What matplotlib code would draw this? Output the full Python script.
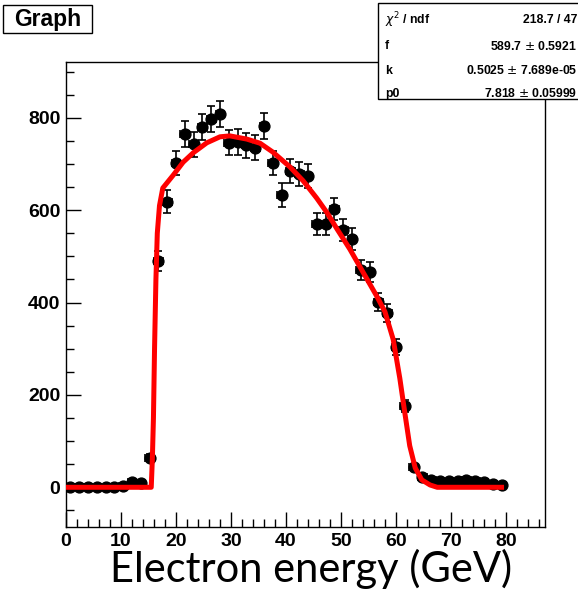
import numpy as np
import matplotlib
matplotlib.use("Agg")
import matplotlib.pyplot as plt
from matplotlib.patches import Rectangle
from matplotlib.ticker import MultipleLocator

# Data points (electron energy bins, counts)
energy = [0.8, 2.4, 4.0, 5.6, 7.2, 8.8, 10.4, 12.0, 13.6, 15.2,
          16.8, 18.4, 20.0, 21.6, 23.2, 24.8, 26.4, 28.0, 29.6, 31.2,
          32.8, 34.4, 36.0, 37.6, 39.2, 40.8, 42.4, 44.0, 45.6, 47.2,
          48.8, 50.4, 52.0, 53.6, 55.2, 56.8, 58.4, 60.0, 61.6, 63.2,
          64.8, 66.4, 68.0, 69.6, 71.2, 72.8, 74.4, 76.0, 77.6, 79.2]
counts = [0, 0, 0, 0, 0, 0, 3, 11, 9, 64,
          490, 618, 702, 765, 743, 780, 798, 808, 746, 748,
          741, 735, 782, 702, 633, 685, 679, 674, 570, 570,
          603, 557, 538, 470, 466, 401, 378, 304, 176, 44,
          22, 15, 13, 14, 14, 15, 13, 11, 8, 5]
bin_half = 0.8

# Fit curve
fit_x = [0.0, 15.5, 15.7, 15.9, 16.1, 16.35, 16.6, 17.0, 17.6, 19.5,
         21.3, 23.1, 25.6, 28.0, 29.8, 32.9, 35.3, 37.6, 40.7, 43.1,
         45.6, 47.5, 49.3, 51.6, 54.0, 56.5, 58.0, 59.5, 60.7, 61.6,
         62.5, 63.5, 64.7, 66.2, 67.5, 79.2]
fit_y = [0, 0, 60, 150, 300, 450, 550, 610, 648, 676,
         704, 724, 746, 759, 761, 754, 745, 726, 694, 664,
         626, 594, 559, 516, 466, 414, 380, 320, 236, 162,
         90, 42, 16, 5, 0, 0]

stats_labels = [r"$\chi^{2}$ / ndf", "f", "k", "p0"]
stats_values = ["218.7 / 47", "589.7 $\\pm$ 0.5921",
                "0.5025 $\\pm$ 7.689e-05", "7.818 $\\pm$ 0.05999"]

W, H = 578, 597


def fx(x):
    return x / W


def fy(y):
    return 1 - y / H


fig = plt.figure(figsize=(W / 100, H / 100), dpi=100)
fig.patch.set_facecolor("white")

ax = fig.add_axes([fx(66), fy(527), (545 - 66) / W, (527 - 62) / H])
ax.set_xlim(0, 87.1)
ax.set_ylim(-86, 921)

yerr = np.sqrt(np.array(counts, dtype=float))
ax.errorbar(energy, counts, yerr=yerr, xerr=bin_half, fmt="o", color="black",
            markersize=7.8, elinewidth=1.2, capsize=2.8, capthick=1.2, zorder=2)
ax.plot(fit_x, fit_y, color="#ff0000", linewidth=3.6, zorder=3)

ax.xaxis.set_major_locator(MultipleLocator(10))
ax.xaxis.set_minor_locator(MultipleLocator(2))
ax.yaxis.set_major_locator(MultipleLocator(200))
ax.yaxis.set_minor_locator(MultipleLocator(50))
ax.tick_params(which="major", direction="in", length=11, width=1,
               top=False, right=False, pad=4)
ax.tick_params(which="minor", direction="in", length=5.5, width=1,
               top=False, right=False)
for lab in ax.get_xticklabels() + ax.get_yticklabels():
    lab.set_fontfamily("Liberation Sans")
    lab.set_fontweight("bold")
    lab.set_fontsize(14)
for sp in ax.spines.values():
    sp.set_linewidth(1)

# title box
fig.add_artist(Rectangle((fx(3), fy(33)), (92 - 3) / W, (33 - 5) / H,
                         transform=fig.transFigure, facecolor="white",
                         edgecolor="black", linewidth=1))
fig.text(fx(47.5), fy(19.5), "Graph", ha="center", va="center",
         fontfamily="Liberation Sans", fontweight="bold", fontsize=16.5)

# stats box
fig.add_artist(Rectangle((fx(378), fy(99)), (600 - 378) / W, (99 - 3) / H,
                         transform=fig.transFigure, facecolor="white",
                         edgecolor="black", linewidth=1, zorder=5))
rows_y = [20, 46, 71, 94]
for lab, val, ry in zip(stats_labels, stats_values, rows_y):
    fig.text(fx(385), fy(ry), lab, ha="left", va="center", zorder=6,
             fontfamily="Liberation Sans", fontweight="bold", fontsize=8.8)
    fig.text(fx(577), fy(ry), val, ha="right", va="center", zorder=6,
             fontfamily="Liberation Sans", fontweight="bold", fontsize=8.8)

fig.text(fx(311), fy(569), "Electron energy (GeV)", ha="center", va="center",
         fontfamily="Lato", fontsize=30)

fig.savefig("out.png", dpi=100)
